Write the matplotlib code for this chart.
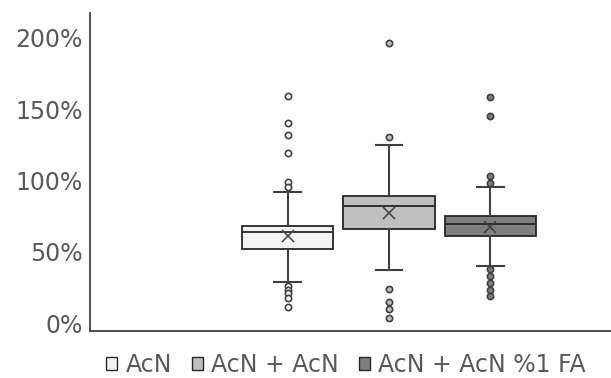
import matplotlib
matplotlib.use("Agg")
import matplotlib.pyplot as plt
from matplotlib.patches import Patch
from matplotlib.ticker import PercentFormatter

plt.rcParams['font.family'] = ['DejaVu Sans']

# series (fractions, 1.0 = 100%)
labels = ['AcN', 'AcN + AcN', 'AcN + AcN %1 FA']
fills = ['#f2f2f2', '#bfbfbf', '#7f7f7f']

q1 = [0.519, 0.659, 0.610]
med = [0.636, 0.822, 0.692]
q3 = [0.682, 0.888, 0.748]
mean = [0.610, 0.773, 0.673]
whislo = [0.287, 0.369, 0.402]
whishi = [0.916, 1.246, 0.956]
fliers = [
    [1.59, 1.402, 1.32, 1.194, 0.99, 0.956, 0.259, 0.231, 0.208, 0.177, 0.112],
    [1.965, 1.304, 0.236, 0.145, 0.096, 0.037],
    [1.582, 1.451, 1.03, 0.984, 0.376, 0.327, 0.278, 0.231, 0.189],
]

stats = []
for i in range(len(labels)):
    stats.append(dict(q1=q1[i], med=med[i], q3=q3[i], mean=mean[i],
                      whislo=whislo[i], whishi=whishi[i], fliers=fliers[i],
                      label=labels[i]))

edge = '#262626'
line = '#404040'
txt = '#595959'

fig = plt.figure(figsize=(6.11, 3.78), dpi=100)
ax = fig.add_axes([90 / 611, 47 / 378, 521 / 611, 318 / 378])

pos = [1, 2, 3]
bp = ax.bxp(stats, positions=pos, widths=0.9, capwidths=0.26,
            showmeans=True, patch_artist=True,
            boxprops=dict(edgecolor=edge, linewidth=1.3),
            medianprops=dict(color=edge, linewidth=1.3),
            whiskerprops=dict(color=line, linewidth=1.5),
            capprops=dict(color=line, linewidth=1.5),
            meanprops=dict(marker='x', markersize=9, markeredgecolor=line,
                           markeredgewidth=1.1),
            flierprops=dict(marker='o', markersize=4.5, markeredgecolor=line,
                            markeredgewidth=1.2))

for i, b in enumerate(bp['boxes']):
    b.set_facecolor(fills[i])
for i, f in enumerate(bp['fliers']):
    f.set_markerfacecolor(fills[i] if i > 0 else 'white')

ax.set_xlim(-0.949, 4.189)
ax.set_ylim(-0.056, 2.173)
ax.set_yticks([0, 0.5, 1.0, 1.5, 2.0])
ax.yaxis.set_major_formatter(PercentFormatter(1.0, decimals=0))
ax.set_xticks([])
ax.tick_params(axis='y', length=0, pad=5, labelsize=17, labelcolor=txt)

for s in ['top', 'right']:
    ax.spines[s].set_visible(False)
for s in ['left', 'bottom']:
    ax.spines[s].set_color(line)
    ax.spines[s].set_linewidth(1.3)

handles = [Patch(facecolor=fills[i], edgecolor=edge, linewidth=1.0, label=labels[i])
           for i in range(len(labels))]
fig.legend(handles=handles, loc='center', ncol=3, frameon=False,
           bbox_to_anchor=(346 / 611, 13 / 378), fontsize=17,
           handlelength=0.47, handleheight=0.47, handletextpad=0.35,
           columnspacing=0.85, labelcolor=txt, borderaxespad=0)

fig.savefig('out.png', dpi=100)
